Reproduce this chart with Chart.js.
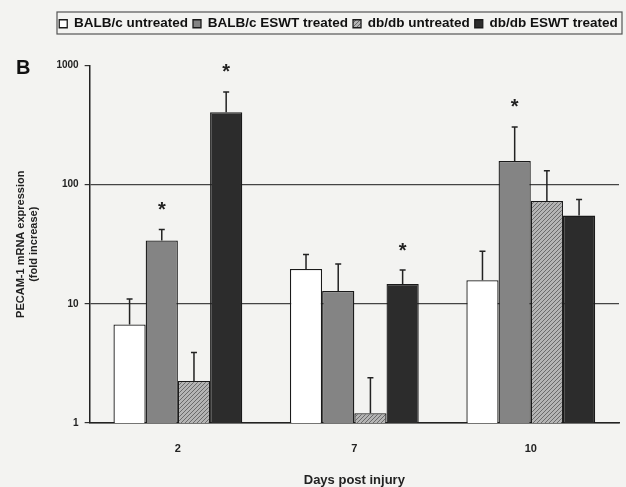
<!DOCTYPE html>
<html><head><meta charset="utf-8">
<script src="https://cdn.jsdelivr.net/npm/chart.js@4"></script>
<style>html,body{margin:0;padding:0;background:#f3f3f1;}#wrap{width:626px;height:487px;}</style>
</head><body><div id="wrap"><canvas id="c" width="626" height="487"></canvas></div>
<script>
const categories = ['2', '7', '10'];
const seriesNames = ['BALB/c untreated', 'BALB/c ESWT treated', 'db/db untreated', 'db/db ESWT treated'];
const balbUntreated = [6.7, 19.6, 15.8];
const balbTreated = [34, 12.8, 158];
const dbUntreated = [2.25, 1.21, 73];
const dbTreated = [405, 14.7, 55];
const balbUntreatedErr = [11, 26, 27.6];
const balbTreatedErr = [42, 21.6, 305];
const dbUntreatedErr = [3.9, 2.4, 131];
const dbTreatedErr = [600, 19.2, 75];
const balbUntreatedSig = [false, false, false];
const balbTreatedSig = [true, false, true];
const dbUntreatedSig = [false, false, false];
const dbTreatedSig = [true, true, false];
const yTicks = [1, 10, 100, 1000];

function hatch() {
  const c = document.createElement('canvas');
  c.width = 4; c.height = 4;
  const g = c.getContext('2d');
  g.fillStyle = '#b4b4b4'; g.fillRect(0, 0, 4, 4);
  g.strokeStyle = '#6a6a6a'; g.lineWidth = 1;
  g.beginPath(); g.moveTo(0, 4); g.lineTo(4, 0); g.moveTo(-1, 1); g.lineTo(1, -1); g.moveTo(3, 5); g.lineTo(5, 3); g.stroke();
  return g.createPattern(c, 'repeat');
}
const fills = ['#ffffff', '#848484', hatch(), '#2c2c2c'];
const vals = [balbUntreated, balbTreated, dbUntreated, dbTreated];
const errs = [balbUntreatedErr, balbTreatedErr, dbUntreatedErr, dbTreatedErr];
const sigs = [balbUntreatedSig, balbTreatedSig, dbUntreatedSig, dbTreatedSig];

const extras = {
  id: 'extras',
  beforeInit(chart) {
    const lg = chart.legend;
    const orig = lg.fit;
    lg.fit = function () { orig.call(this); this.height += 25; };
  },
  afterLayout(chart) {
    chart.legend.left += 22; chart.legend.right += 22;
  },
  beforeDraw(chart) {
    const ctx = chart.ctx;
    ctx.save(); ctx.fillStyle = '#f3f3f1'; ctx.fillRect(0, 0, chart.width, chart.height); ctx.restore();
  },
  afterDatasetsDraw(chart) {
    const ctx = chart.ctx, y = chart.scales.y;
    ctx.save();
    chart.data.datasets.forEach((ds, i) => {
      const meta = chart.getDatasetMeta(i);
      meta.data.forEach((bar, j) => {
        const top = y.getPixelForValue(errs[i][j]);
        ctx.strokeStyle = '#222'; ctx.lineWidth = 1.5;
        ctx.beginPath(); ctx.moveTo(bar.x, bar.y); ctx.lineTo(bar.x, top);
        ctx.moveTo(bar.x - 3, top); ctx.lineTo(bar.x + 3, top); ctx.stroke();
        if (sigs[i][j]) {
          ctx.fillStyle = '#222'; ctx.font = 'bold 20px "Liberation Sans", Arial, sans-serif';
          ctx.textAlign = 'center'; ctx.textBaseline = 'middle';
          ctx.fillText('*', bar.x, top - 19);
        }
      });
    });
    ctx.restore();
  },
  afterDraw(chart) {
    const ctx = chart.ctx;
    ctx.save();
    ctx.strokeStyle = '#555'; ctx.lineWidth = 1.2;
    ctx.strokeRect(57, 12, 565, 22);
    ctx.fillStyle = '#111'; ctx.font = 'bold 20px "Liberation Sans", Arial, sans-serif';
    ctx.textAlign = 'left'; ctx.textBaseline = 'middle';
    ctx.fillText('B', 16, 68);
    ctx.restore();
  }
};

new Chart(document.getElementById('c'), {
  type: 'bar',
  data: {
    labels: categories,
    datasets: seriesNames.map((n, i) => ({
      label: n, data: vals[i], backgroundColor: fills[i], borderColor: '#1a1a1a', borderWidth: 1.3,
      categoryPercentage: 0.73, barPercentage: 1.0
    }))
  },
  options: {
    responsive: false, animation: false, devicePixelRatio: 1,
    layout: { padding: { left: 14, right: 7, top: 12, bottom: 0 } },
    plugins: {
      legend: {
        position: 'top', align: 'center',
        labels: {
          boxWidth: 8, boxHeight: 8, padding: 5, color: '#111',
          font: { family: '"Liberation Sans", Arial, sans-serif', size: 13.5, weight: 'bold' }
        }
      },
      tooltip: { enabled: false }
    },
    scales: {
      x: {
        grid: { display: false, drawTicks: false },
        border: { color: '#222', width: 1.5 },
        ticks: { color: '#222', padding: 20, font: { family: '"Liberation Sans", Arial, sans-serif', size: 11, weight: 'bold', lineHeight: 1 } },
        title: { display: true, text: 'Days post injury', color: '#222', padding: { top: 0, bottom: 0 },
          font: { family: '"Liberation Sans", Arial, sans-serif', size: 13, weight: 'bold', lineHeight: 1 } }
      },
      y: {
        type: 'logarithmic', min: 1, max: 1000,
        afterBuildTicks: (s) => { s.ticks = yTicks.map(v => ({ value: v })); },
        grid: { color: (c) => (c.tick && c.tick.value === 1000) ? 'rgba(0,0,0,0)' : '#444', lineWidth: 1.2, tickLength: 5, tickColor: '#333' },
        border: { color: '#222', width: 1.5 },
        ticks: { color: '#222', padding: 6, callback: (v) => String(v), font: { family: '"Liberation Sans", Arial, sans-serif', size: 10, weight: 'bold' } },
        title: { display: true, text: ['PECAM-1 mRNA expression', '(fold increase)'], color: '#222', padding: { top: 0, bottom: 10 },
          font: { family: '"Liberation Sans", Arial, sans-serif', size: 11, weight: 'bold' } }
      }
    }
  },
  plugins: [extras]
});
</script></body></html>
